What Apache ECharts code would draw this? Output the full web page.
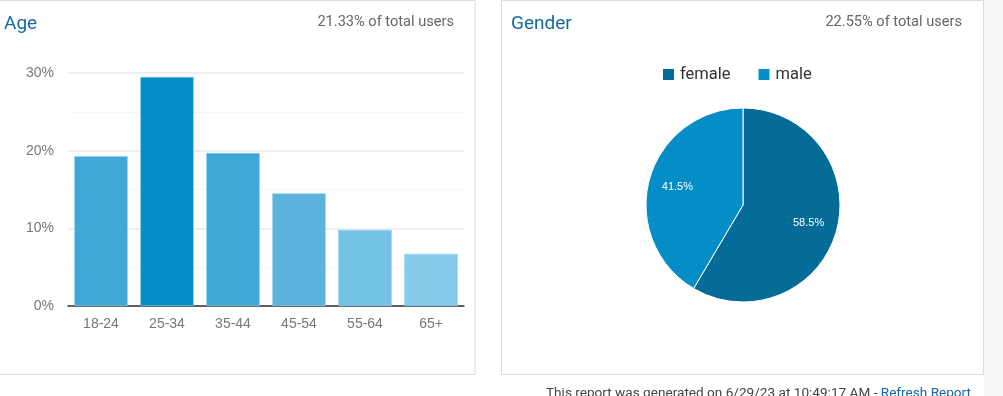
<!DOCTYPE html>
<html>
<head>
<meta charset="utf-8">
<script src="https://cdn.jsdelivr.net/npm/echarts@6/dist/echarts.min.js"></script>
<style>
  html, body { margin: 0; padding: 0; background: #fff; }
  #main { width: 1003px; height: 396px; }
</style>
</head>
<body>
<div id="main"></div>
<script>
// age buckets
const ageGroups = ['18-24', '25-34', '35-44', '45-54', '55-64', '65+'];
const agePct = [19.3, 29.5, 19.7, 14.5, 9.8, 6.7];
const ageColors = ['#3fa8d6', '#058dc7', '#3ea8d6', '#5ab4dc', '#75c3e4', '#86cbea'];
const yTicks = [0, 10, 20, 30];

// gender split
const genders = ['female', 'male'];
const genderPct = [58.5, 41.5];
const genderColors = ['#056b97', '#058dc7'];

const chart = echarts.init(document.getElementById('main'));

const pieData = genders.map((g, i) => ({
  name: g,
  value: genderPct[i],
  itemStyle: { color: genderColors[i] }
}));

chart.setOption({
  animation: false,
  textStyle: { fontFamily: 'Roboto' },
  graphic: [
    { type: 'rect', shape: { x: 984, y: 0, width: 19, height: 396 }, style: { fill: '#f7f8fa' }, z: -10 },
    { type: 'rect', shape: { x: -1, y: 0.5, width: 476, height: 374 }, style: { fill: '#fff', stroke: '#dcdcdc', lineWidth: 1 }, z: -5 },
    { type: 'rect', shape: { x: 501.5, y: 0.5, width: 482, height: 374 }, style: { fill: '#fff', stroke: '#dcdcdc', lineWidth: 1 }, z: -5 },
    {
      type: 'text', right: 32, top: 387,
      style: {
        text: '{a|This report was generated on 6/29/23 at 10:49:17 AM - }{b|Refresh Report}',
        rich: {
          a: { fill: '#444', fontSize: 13.6, fontFamily: 'Roboto' },
          b: { fill: '#1565a8', fontSize: 13.6, fontFamily: 'Roboto' }
        }
      }
    }
  ],
  title: [
    { text: 'Age', left: 4, top: 15, padding: 0, textStyle: { color: '#136aa3', fontSize: 19, fontWeight: 'normal' } },
    { text: '21.33% of total users', right: 549, top: 15, padding: 0, textStyle: { color: '#666', fontSize: 14.6, fontWeight: 'normal' } },
    { text: 'Gender', left: 511, top: 15, padding: 0, textStyle: { color: '#136aa3', fontSize: 19, fontWeight: 'normal' } },
    { text: '22.55% of total users', right: 41, top: 15, padding: 0, textStyle: { color: '#666', fontSize: 14.6, fontWeight: 'normal' } }
  ],
  legend: {
    data: genders,
    left: 661, top: 66, padding: 0,
    icon: 'rect', itemWidth: 13, itemHeight: 13, itemGap: 26,
    textStyle: { color: '#333', fontSize: 16.5 }
  },
  grid: { left: 68, right: 539, top: 73, bottom: 90 },
  xAxis: {
    type: 'category',
    data: ageGroups,
    axisLine: { lineStyle: { color: '#333', width: 1.5 } },
    axisTick: { show: false },
    axisLabel: { color: '#777', fontSize: 14, fontFamily: 'Liberation Sans', margin: 11 }
  },
  yAxis: {
    type: 'value',
    min: yTicks[0], max: yTicks[yTicks.length - 1], interval: 10,
    axisLabel: { color: '#777', fontSize: 14, fontFamily: 'Liberation Sans', formatter: '{value}%', margin: 14 },
    splitLine: { lineStyle: { color: '#e6e9ed', width: 1.5 } },
    minorTick: { show: false, splitNumber: 2 },
    minorSplitLine: { show: true, lineStyle: { color: '#eceff2', type: 'dotted' } }
  },
  series: [
    {
      type: 'bar',
      barCategoryGap: '19%',
      data: agePct.map((v, i) => ({
        value: v,
        itemStyle: { color: ageColors[i], borderColor: '#8fd0ee', borderWidth: 0.6 }
      }))
    },
    {
      type: 'pie',
      center: [743, 205],
      radius: 97,
      startAngle: 90,
      clockwise: true,
      data: pieData,
      itemStyle: { borderColor: '#fff', borderWidth: 1 },
      label: { show: false },
      labelLine: { show: false },
      emphasis: { disabled: true }
    },
    {
      // label-only ring so the percentages sit further out, as in the original
      type: 'pie',
      center: [743, 205],
      radius: 130,
      startAngle: 90,
      clockwise: true,
      silent: true,
      legendHoverLink: false,
      data: genders.map((g, i) => ({ name: g + ' ', value: genderPct[i] })),
      itemStyle: { color: 'rgba(0,0,0,0)' },
      label: {
        show: true, position: 'inside',
        formatter: p => p.value.toFixed(1) + '%',
        color: '#fff', fontSize: 11, fontFamily: 'Liberation Sans'
      },
      labelLine: { show: false },
      z: 5
    }
  ]
});
</script>
</body>
</html>
